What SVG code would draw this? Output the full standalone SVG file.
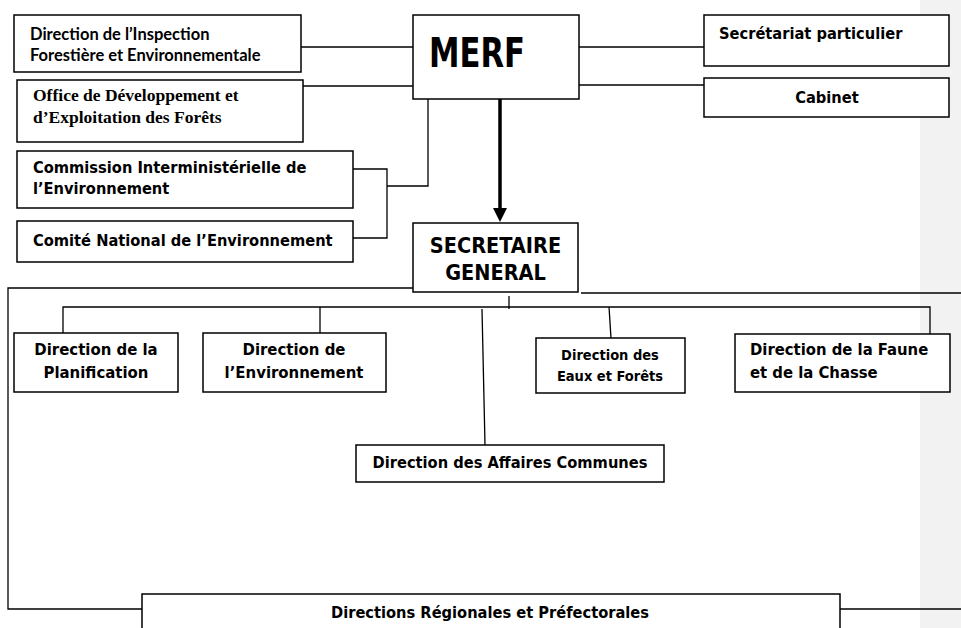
<svg xmlns="http://www.w3.org/2000/svg" width="961" height="628" viewBox="0 0 961 628">
<style>
.bx{fill:#fff;stroke:#000;stroke-width:1.5}
.ln{fill:none;stroke:#000;stroke-width:1.3}
.t{font-family:"DejaVu Sans Condensed","DejaVu Sans",sans-serif;font-weight:bold;font-size:16.3px;fill:#000}
.c{text-anchor:middle}
.cal{font-family:Lato,"Open Sans",sans-serif;font-weight:bold;font-size:16.5px;fill:#000}
.tim{font-family:"Liberation Serif",serif;font-weight:bold;font-size:17.5px;fill:#000}
</style>
<rect x="920" y="0" width="41" height="628" fill="#f2f2f2"/>
<g id="connectors">
<line class="ln" x1="301" y1="47" x2="413" y2="47"/>
<line class="ln" x1="303" y1="86" x2="413" y2="86"/>
<line class="ln" x1="579" y1="47" x2="704" y2="47"/>
<line class="ln" x1="579" y1="85" x2="704" y2="85"/>
<polyline class="ln" points="353,169 387,169 387,238 353,238"/>
<polyline class="ln" points="387,186 428,186 428,99"/>
<line x1="500" y1="99" x2="500" y2="210" stroke="#000" stroke-width="3.5"/>
<polygon points="493,208 507,208 500,222" fill="#000"/>
<polyline class="ln" points="413,288 8,288 8,609 142,609"/>
<line class="ln" x1="840" y1="609" x2="961" y2="609"/>
<line class="ln" x1="581" y1="293" x2="961" y2="293"/>
<line class="ln" x1="509" y1="296" x2="509" y2="309"/>
<polyline class="ln" points="63,333 63,307 930,307 930,334"/>
<line class="ln" x1="320" y1="307" x2="320" y2="333"/>
<line class="ln" x1="609" y1="307" x2="611" y2="338"/>
<line class="ln" x1="482" y1="309" x2="485" y2="445"/>
</g>
<g id="dirinspection">
<rect class="bx" x="14" y="15" width="287" height="57" stroke-width="2"/>
<text class="cal" x="30" y="40">Direction de l’Inspection</text>
<text class="cal" x="30" y="61">Forestière et Environnementale</text>
</g>
<g id="odef">
<rect class="bx" x="17" y="80" width="286" height="62"/>
<text class="tim" x="33" y="101">Office de Développement et</text>
<text class="tim" x="33" y="123">d’Exploitation des Forêts</text>
</g>
<g id="commission">
<rect class="bx" x="17" y="151" width="336" height="57"/>
<text class="t" x="33" y="173">Commission Interministérielle de</text>
<text class="t" x="33" y="194">l’Environnement</text>
</g>
<g id="comite">
<rect class="bx" x="17" y="221" width="336" height="41"/>
<text class="t" x="33" y="246">Comité National de l’Environnement</text>
</g>
<g id="merf">
<rect class="bx" x="413" y="15" width="166" height="84"/>
<text class="t" x="429" y="67" style="font-size:40px" textLength="96" lengthAdjust="spacingAndGlyphs">MERF</text>
</g>
<g id="secretariat">
<rect class="bx" x="704" y="15" width="245" height="51"/>
<text class="t" x="719" y="39">Secrétariat particulier</text>
</g>
<g id="cabinet">
<rect class="bx" x="704" y="78" width="245" height="39"/>
<text class="t c" x="827" y="103">Cabinet</text>
</g>
<g id="sg">
<rect class="bx" x="413" y="223" width="165" height="69"/>
<text class="t c" x="495.5" y="253" style="font-size:21.5px">SECRETAIRE</text>
<text class="t c" x="495.5" y="280" style="font-size:21.5px">GENERAL</text>
</g>
<g id="planification">
<rect class="bx" x="14" y="333" width="164" height="59"/>
<text class="t c" x="96" y="355" style="font-size:16.6px">Direction de la</text>
<text class="t c" x="96" y="378" style="font-size:16.6px">Planification</text>
</g>
<g id="environnement">
<rect class="bx" x="203" y="333" width="183" height="59"/>
<text class="t c" x="294" y="355" style="font-size:16.6px">Direction de</text>
<text class="t c" x="294" y="378" style="font-size:16.6px">l’Environnement</text>
</g>
<g id="eaux">
<rect class="bx" x="536" y="338" width="149" height="55"/>
<text class="t c" x="610" y="360" style="font-size:14.5px">Direction des</text>
<text class="t c" x="610" y="381" style="font-size:14.5px">Eaux et Forêts</text>
</g>
<g id="faune">
<rect class="bx" x="735" y="334" width="215" height="58"/>
<text class="t" x="750" y="355" style="font-size:16.5px">Direction de la Faune</text>
<text class="t" x="750" y="378" style="font-size:16.5px">et de la Chasse</text>
</g>
<g id="affaires">
<rect class="bx" x="356" y="445" width="308" height="37"/>
<text class="t c" x="510" y="468">Direction des Affaires Communes</text>
</g>
<g id="regionales">
<rect class="bx" x="142" y="594" width="698" height="50"/>
<text class="t c" x="490" y="618">Directions Régionales et Préfectorales</text>
</g>
</svg>
